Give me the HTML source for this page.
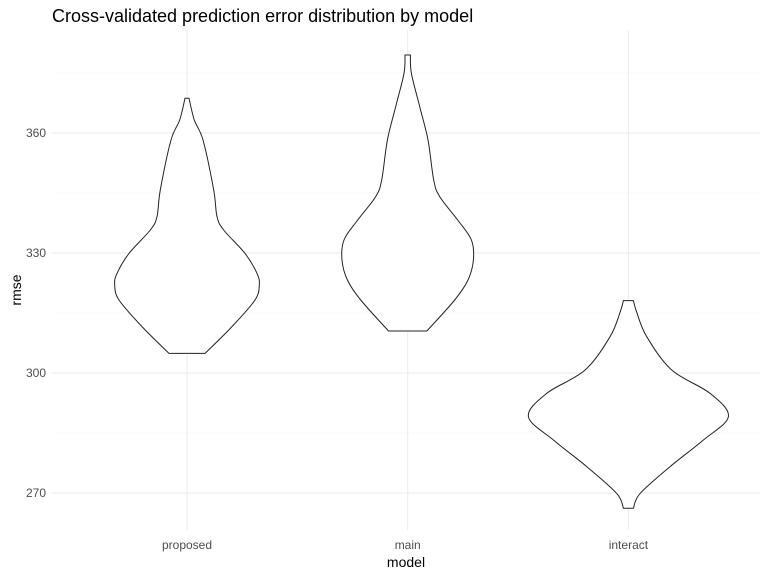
<!DOCTYPE html>
<html><head><meta charset="utf-8"><style>
body{margin:0;background:#fff;font-family:"Liberation Sans",Arial,sans-serif}
svg text{font-family:"Liberation Sans",Arial,sans-serif}
</style></head><body>
<svg id="chart" width="768" height="576" viewBox="0 0 768 576" xmlns="http://www.w3.org/2000/svg">
<rect width="768" height="576" fill="#fff"/>
<g id="grid"></g>
<g id="violins"></g>
<g id="axes"></g>
<text x="52" y="22" font-size="18" fill="#000">Cross-validated prediction error distribution by model</text>
<text x="406" y="567" font-size="14" text-anchor="middle" fill="#000">model</text>
<text transform="translate(21,290) rotate(-90)" font-size="14" text-anchor="middle" fill="#000">rmse</text>
</svg>
<script>
const categories = ["proposed","main","interact"];
const yTicks = [270,300,330,360];
const yMinor = [285,315,345,375];
// violin profiles: rmse values (top to bottom) and relative density (half-width)
const proposedVals = [368.7,363.25,358.25,345.75,339.1,335.75,329.9,324.9,322,318.25,311.6,304.9];
const proposedDens = [0.02,0.073,0.16,0.267,0.30,0.367,0.58,0.70,0.723,0.68,0.45,0.18];
const mainVals = [379.5,374.9,366.6,358.25,348.25,344.1,338.25,333.25,328.25,323.25,318.25,310.5];
const mainDens = [0.027,0.037,0.12,0.203,0.26,0.32,0.50,0.637,0.657,0.603,0.47,0.192];
const interactVals = [318.1,315.2,309.1,300.75,294.9,289.1,283.25,276.6,269.9,266.2];
const interactDens = [0.05,0.083,0.183,0.433,0.817,1.0,0.75,0.417,0.117,0.05];

const NS="http://www.w3.org/2000/svg";
const pLeft=52,pRight=760,pTop=30,pBottom=520;
function yScale(v){return 133+(360-v)*4;}
function xScale(i){return 187+i*220.7;}
function wScale(d){return d*100;}
const grid=document.getElementById('grid');
function line(g,x1,y1,x2,y2,c,w){const l=document.createElementNS(NS,'line');l.setAttribute('x1',x1);l.setAttribute('y1',y1);l.setAttribute('x2',x2);l.setAttribute('y2',y2);l.setAttribute('stroke',c);l.setAttribute('stroke-width',w);g.appendChild(l);return l;}
yMinor.forEach(v=>{const l=line(grid,pLeft,yScale(v),pRight,yScale(v),'#f1f1f1',0.6);

});
yTicks.forEach(v=>{const l=line(grid,pLeft,yScale(v),pRight,yScale(v),'#ebebeb',1);

});
categories.forEach((c,i)=>{const l=line(grid,xScale(i),pTop,xScale(i),pBottom+10,'#ebebeb',1);

});
const axes=document.getElementById('axes');
yTicks.forEach(v=>{const t=document.createElementNS(NS,'text');
t.setAttribute('x',46);t.setAttribute('y',yScale(v)+4);t.setAttribute('text-anchor','end');t.setAttribute('font-size','12');t.setAttribute('fill','#4d4d4d');t.textContent=v;


axes.appendChild(t);});
categories.forEach((c,i)=>{const t=document.createElementNS(NS,'text');
t.setAttribute('x',xScale(i));t.setAttribute('y',549);t.setAttribute('text-anchor','middle');t.setAttribute('font-size','12');t.setAttribute('fill','#4d4d4d');t.textContent=c;


axes.appendChild(t);});
const series=[[proposedVals,proposedDens],[mainVals,mainDens],[interactVals,interactDens]];
const vg=document.getElementById('violins');
function smooth(pts){let d='';for(let k=0;k<pts.length-1;k++){const p0=pts[k-1]||pts[k],p1=pts[k],p2=pts[k+1],p3=pts[k+2]||p2;
const c1=[p1[0]+(p2[0]-p0[0])/6,p1[1]+(p2[1]-p0[1])/6],c2=[p2[0]-(p3[0]-p1[0])/6,p2[1]-(p3[1]-p1[1])/6];
d+=' C'+c1[0]+','+c1[1]+' '+c2[0]+','+c2[1]+' '+p2[0]+','+p2[1];}return d;}
series.forEach((s,i)=>{const vals=s[0],dens=s[1];const cx=xScale(i);
const rightPts=vals.map((v,k)=>[cx+wScale(dens[k]),yScale(v)]);
const leftPts=vals.map((v,k)=>[cx-wScale(dens[k]),yScale(v)]).reverse();
const last=leftPts[leftPts.length-1];
let d='M'+last[0]+','+last[1]+' L'+rightPts[0][0]+','+rightPts[0][1]+smooth(rightPts)+' L'+leftPts[0][0]+','+leftPts[0][1]+smooth(leftPts)+' Z';
const p=document.createElementNS(NS,'path');p.setAttribute('d',d);p.setAttribute('fill','#fff');p.setAttribute('stroke','#222');p.setAttribute('stroke-width','1');


vg.appendChild(p);});
</script>
</body></html>
